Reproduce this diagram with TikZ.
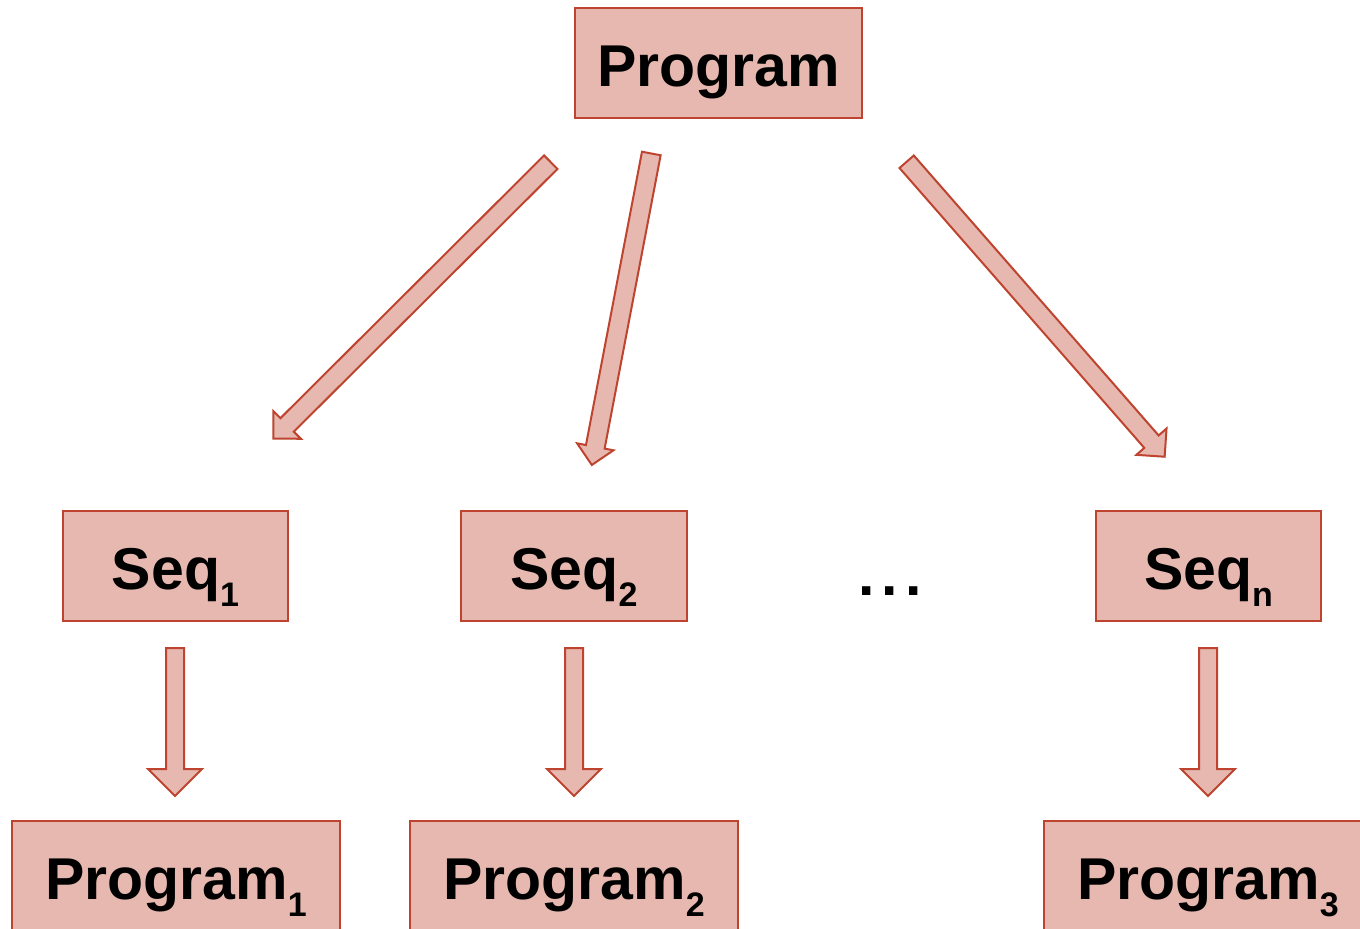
\documentclass[tikz,border=0pt]{standalone}
\usepackage{fontspec}
\setmainfont{Liberation Sans}
\usetikzlibrary{calc,shapes.arrows}

\definecolor{boxfill}{HTML}{E6B8AF}
\definecolor{boxline}{HTML}{BE4430}

% subscript lowered well below the baseline
\newcommand\lowsub[1]{\raisebox{-8.5pt}{\fontsize{17pt}{19pt}\selectfont #1}}

% block arrow from one coordinate to another: name, from, to, half shaft width, head extend
\newcommand\blockarrow[5]{%
  \path let \p1=($(#3)-(#2)$), \n1={atan2(\y1,\x1)}, \n2={veclen(\x1,\y1)} in
    node[blockarr, rotate=\n1, minimum height=\n2,
         inner ysep=#4, single arrow head extend=#5, anchor=tail] (#1) at (#2) {};}

\begin{document}
\begin{tikzpicture}[x=0.5pt, y=-0.5pt,
  box/.style={draw=boxline, fill=boxfill, line width=1pt, inner sep=0pt,
    minimum height=55pt, text height=23pt, text depth=0pt,
    font=\fontsize{29.5pt}{36pt}\selectfont\bfseries},
  blockarr/.style={single arrow, single arrow tip angle=90, minimum width=0pt,
    draw=boxline, fill=boxfill, line width=1pt, inner xsep=0pt, line join=miter}]

\useasboundingbox (0,0) rectangle (1360,928);

% boxes
\node[box, minimum width=143.5pt] (prog)  at (718.5,63) {Program};
\node[box, minimum width=112.5pt] (seqA)  at (175.5,566) {Seq\lowsub{1}};
\node[box, minimum width=113pt]   (seqB)  at (574,566)   {Seq\lowsub{2}};
\node[box, minimum width=112.5pt] (seqN)  at (1208.5,566) {Seq\lowsub{n}};
\node[box, minimum width=164pt]   (progA) at (176,876)  {Program\lowsub{1}};
\node[box, minimum width=164pt]   (progB) at (574,876)  {Program\lowsub{2}};
\node[box, minimum width=164pt]   (progN) at (1208,876) {Program\lowsub{3}};

% ellipsis between the second and last columns
\node[anchor=base, inner sep=0pt, font=\fontsize{29.5pt}{36pt}\selectfont\bfseries]
  (dots) at (890,595) {.\kern3.5pt.\kern3.5pt.};

% arrow end points
\coordinate (a1s) at (551.5,161.5);
\coordinate (a1e) at (274,438);
\coordinate (a2s) at (651.5,152.5);
\coordinate (a2e) at (592,464);
\coordinate (a3s) at (906,161);
\coordinate (a3e) at (1164,456);
\coordinate (v1s) at (175,647);
\coordinate (v1e) at (175,795);
\coordinate (v2s) at (574,647);
\coordinate (v2e) at (574,795);
\coordinate (v3s) at (1208,647);
\coordinate (v3e) at (1208,795);

% arrows from the program to the sequences
\blockarrow{arrA}{a1s}{a1e}{4.25pt}{5pt}
\blockarrow{arrB}{a2s}{a2e}{4.25pt}{4.5pt}
\blockarrow{arrN}{a3s}{a3e}{4.25pt}{5.25pt}

% arrows from the sequences to the programs
\blockarrow{downA}{v1s}{v1e}{4pt}{9pt}
\blockarrow{downB}{v2s}{v2e}{4pt}{9pt}
\blockarrow{downN}{v3s}{v3e}{4pt}{9pt}
\end{tikzpicture}
\end{document}
